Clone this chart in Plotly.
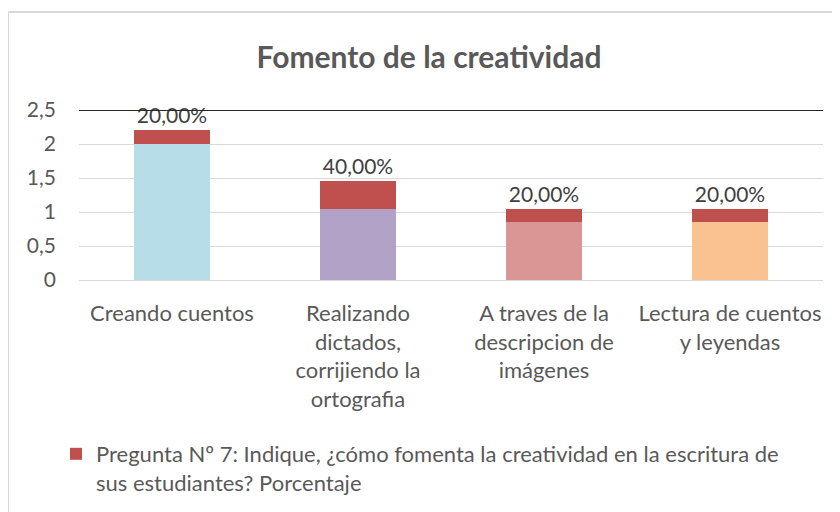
import plotly.graph_objects as go

categories = [
    "Creando cuentos",
    "Realizando<br>dictados,<br>corrijiendo la<br>ortografia",
    "A traves de la<br>descripcion de<br>imágenes",
    "Lectura de cuentos<br>y leyendas",
]
base_values = [2.0, 1.05, 0.85, 0.85]
pct_values = [0.20, 0.40, 0.20, 0.20]
base_colors = ["#b7dde8", "#b3a2c7", "#d99694", "#f9c290"]
series_name = ("Pregunta Nº 7: Indique, ¿cómo fomenta la creatividad en la escritura de"
               "<br>sus estudiantes? Porcentaje")
y_ticks = [0, 0.5, 1, 1.5, 2, 2.5]

FONT = "Lato"
GREY = "#595959"
OFF = 8  # page body margin

W, H = 832, 504
# screen-space targets for the plot area
SX0, SX1, SY0, SY1 = 79, 823, 110, 280
L = SX0 - OFF
R = W - (SX1 - OFF)
T = SY0 - OFF
B = H - (SY1 - OFF)
pw, ph = W - L - R, H - T - B


def px(xs):
    return (xs - SX0) / pw


def py(ys):
    return (SY1 - ys) / ph


fig = go.Figure()
fig.add_trace(go.Bar(
    x=categories, y=base_values, marker=dict(color=base_colors, line=dict(width=0)),
    showlegend=False, hoverinfo="skip",
))
fig.add_trace(go.Bar(
    x=categories, y=pct_values, name=series_name,
    marker=dict(color="#c0504d", line=dict(width=0)),
    texttemplate="%{y:.2%}", textposition="outside", cliponaxis=False,
    textfont=dict(family=FONT, size=21, color="#404040"),
))

fig.update_layout(
    width=W, height=H,
    margin=dict(l=L, r=R, t=T, b=B, autoexpand=False),
    paper_bgcolor="white", plot_bgcolor="white",
    barmode="stack", bargap=0.59,
    separators=",.",
    font=dict(family=FONT, size=21, color=GREY),
    title=dict(text="<b>Fomento de la creatividad</b>", x=(429 - OFF) / W, xanchor="center",
               y=1 - (57 - OFF) / H, yanchor="middle",
               font=dict(family=FONT, size=30, color=GREY)),
    xaxis=dict(showgrid=False, showline=False, ticks="", ticklabelstandoff=18,
               automargin=False,
               tickfont=dict(family=FONT, size=22, color=GREY)),
    yaxis=dict(range=[0, 2.5], tickvals=y_ticks, showgrid=True, gridcolor="#d9d9d9",
               gridwidth=1, zeroline=True, zerolinecolor="#d9d9d9", zerolinewidth=1,
               showline=False, ticks="", ticklabelstandoff=22, automargin=False,
               tickfont=dict(family=FONT, size=21, color=GREY)),
    legend=dict(x=px(56), y=py(433), xanchor="left", yanchor="top", valign="top",
                bgcolor="rgba(0,0,0,0)", font=dict(family=FONT, size=22, color=GREY),
                itemwidth=30, tracegroupgap=0),
    shapes=[
        dict(type="line", xref="paper", yref="y", x0=0, x1=1, y0=2.5, y1=2.5,
             line=dict(color="#262626", width=2), layer="above"),
        dict(type="rect", xref="paper", yref="paper", x0=px(8), x1=px(860),
             y0=py(540), y1=py(12), line=dict(color="#d9d9d9", width=2), layer="below"),
    ],
)

fig.write_html("out.html")
